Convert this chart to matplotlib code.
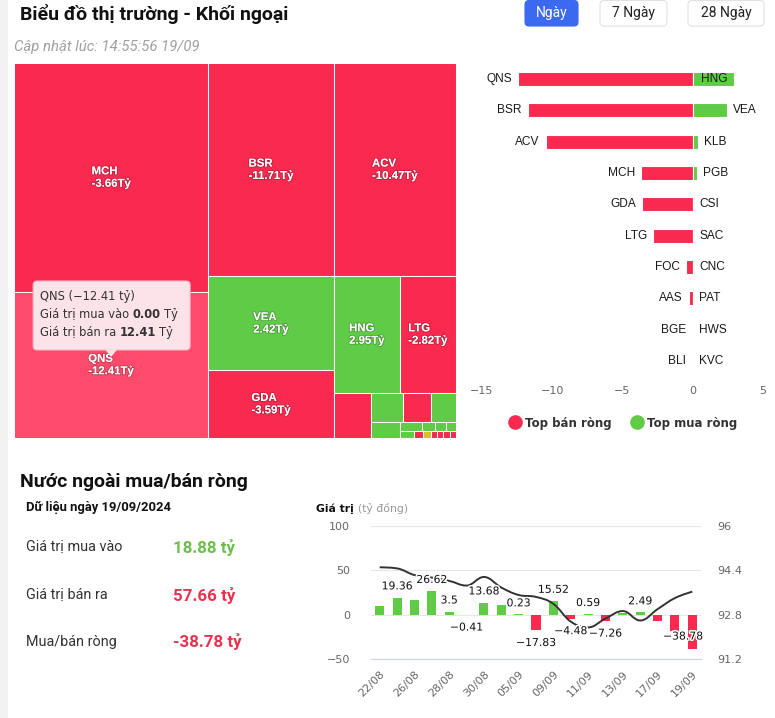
import matplotlib
matplotlib.use("Agg")
import matplotlib.pyplot as plt
import matplotlib.patheffects as pe
from matplotlib.patches import Rectangle, FancyBboxPatch, Polygon, PathPatch
from matplotlib.path import Path
from matplotlib.lines import Line2D
import numpy as np

# ---------------- du lieu ----------------
# treemap: kich thuoc o = tong gia tri giao dich, mau = mua/ban rong (ty)
tm_names = ['MCH', 'QNS', 'BSR', 'ACV', 'VEA', 'GDA', 'HNG', 'LTG',
            '', '', '', '', '', '', '', '', '', '', '', '', '', '', '', '']
tm_size = [19.47, 12.41, 11.75, 11.39, 5.15, 3.72, 3.36, 2.85,
           0.736, 0.414, 0.362, 0.330, 0.202, 0.087, 0.053, 0.046, 0.040,
           0.040, 0.026, 0.023, 0.018, 0.018, 0.018, 0.018]
tm_net = [-3.66, -12.41, -11.71, -10.47, 2.42, -3.59, 2.95, -2.82,
          -0.45, 0.35, -0.30, 0.28, 0.05, 0.02, 0.02, 0.01, 0.01,
          0.01, -0.02, 0.0, -0.01, -0.01, -0.01, -0.01]

tip_name = 'QNS'
tip_buy = 0.00
tip_sell = 12.41

# top ban rong / mua rong
sell_names = ['QNS', 'BSR', 'ACV', 'MCH', 'GDA', 'LTG', 'FOC', 'AAS', 'BGE', 'BLI']
sell_vals = [-12.41, -11.71, -10.47, -3.66, -3.59, -2.82, -0.45, -0.30, -0.02, -0.01]
buy_names = ['HNG', 'VEA', 'KLB', 'PGB', 'CSI', 'SAC', 'CNC', 'PAT', 'HWS', 'KVC']
buy_vals = [2.95, 2.42, 0.35, 0.28, 0.04, 0.02, 0.01, 0.01, 0.0, 0.0]

# nuoc ngoai mua/ban rong theo ngay + chi so (truc phai)
dates = ['22/08', '23/08', '26/08', '27/08', '28/08', '29/08', '30/08', '04/09',
         '05/09', '06/09', '09/09', '10/09', '11/09', '12/09', '13/09', '16/09',
         '17/09', '18/09', '19/09']
net_flow = [9.3, 19.36, 17.0, 26.62, 3.5, -0.41, 13.68, 10.8, 0.23, -17.83,
            15.52, -4.48, 0.59, -7.26, 1.6, 2.49, -6.6, -18.3, -38.78]
show_lbl = [False, True, False, True, True, True, True, False, True, True,
            True, True, True, True, False, True, False, False, True]
upcom_idx = [94.51, 94.47, 94.23, 94.14, 94.02, 93.85, 94.16, 93.78, 93.51, 93.44,
             93.19, 92.55, 92.34, 92.66, 92.93, 92.59, 93.0, 93.40, 93.63]

buy_total = 18.88
sell_total = 57.66
net_total = -38.78

RED = '#F9294F'
GREEN = '#5FCB46'
YEL = '#D8C41C'
HOVER = '#FF4A6B'
UI = ['Roboto', 'DejaVu Sans']
LAB = ['Liberation Sans', 'DejaVu Sans']


def hc_squarified(values, x, y, w, h):
    # kieu "squarified" cua highcharts, huong doi xen ke
    tot = sum(values)
    areas = [v / tot * w * h for v in values]
    rects = []
    direction = 0
    row = []

    def place(row, x, y, w, h, d):
        s = sum(row)
        out = []
        if d == 0:
            cw = s / h
            yy = y
            for a in row:
                out.append((x, yy, cw, a / cw))
                yy += a / cw
            return out, x + cw, y, w - cw, h
        rh = s / w
        xx = x
        for a in row:
            out.append((xx, y, a / rh, rh))
            xx += a / rh
        return out, x, y + rh, w, h - rh

    def ratio(a, b):
        return max(a / b, b / a)

    for a in areas:
        if row:
            last = row[-1]
            s_old, s_new = sum(row), sum(row) + a
            if direction == 0:
                t_old, t_new = s_old / h, s_new / h
            else:
                t_old, t_new = s_old / w, s_new / w
            lr = ratio(t_old, last / t_old)
            nr = ratio(t_new, last / t_new)
            if nr > lr:
                out, x, y, w, h = place(row, x, y, w, h, direction)
                rects += out
                direction = 1 - direction
                row = []
        row.append(a)
    out, *_ = place(row, x, y, w, h, direction)
    rects += out
    return rects


def hc_spline(xs, ys, smoothing=1.5):
    n = len(xs)
    denom = smoothing + 1
    left = [None] * n
    right = [None] * n
    for i in range(1, n - 1):
        px, py = xs[i], ys[i]
        lx, ly = xs[i - 1], ys[i - 1]
        nx, ny = xs[i + 1], ys[i + 1]
        lcx = (smoothing * px + lx) / denom
        lcy = (smoothing * py + ly) / denom
        rcx = (smoothing * px + nx) / denom
        rcy = (smoothing * py + ny) / denom
        corr = 0
        if rcx != lcx:
            corr = (rcy - lcy) * (rcx - px) / (rcx - lcx) + py - rcy
        lcy += corr
        rcy += corr
        if lcy > ly and lcy > py:
            lcy = max(ly, py); rcy = 2 * py - lcy
        elif lcy < ly and lcy < py:
            lcy = min(ly, py); rcy = 2 * py - lcy
        if rcy > ny and rcy > py:
            rcy = max(ny, py); lcy = 2 * py - rcy
        elif rcy < ny and rcy < py:
            rcy = min(ny, py); lcy = 2 * py - rcy
        left[i] = (lcx, lcy)
        right[i] = (rcx, rcy)
    verts = [(xs[0], ys[0])]
    codes = [Path.MOVETO]
    for i in range(1, n):
        c1 = right[i - 1] or (xs[i - 1], ys[i - 1])
        c2 = left[i] or (xs[i], ys[i])
        verts += [c1, c2, (xs[i], ys[i])]
        codes += [Path.CURVE4] * 3
    return Path(verts, codes)


W, H = 775, 718
fig = plt.figure(figsize=(W / 100, H / 100), dpi=100)
renderer = fig.canvas.get_renderer()


def rect_px(x0, y0, x1, y1):
    return [x0 / W, 1 - y1 / H, (x1 - x0) / W, (y1 - y0) / H]


# lop trang (toa do pixel)
ax_pg = fig.add_axes([0, 0, 1, 1], zorder=10)
ax_pg.set_xlim(0, W)
ax_pg.set_ylim(H, 0)
ax_pg.axis('off')


def runs(x, y, parts, gap=3.3, **kw):
    for s, extra in parts:
        t = ax_pg.text(x, y, s, **kw, **extra)
        x = t.get_window_extent(renderer).x1 + gap
    return x


ax_pg.add_patch(Rectangle((0, 0), 8, H, color='#f2f2f2', lw=0))

# header
ax_pg.text(20, 20, 'Biểu đồ thị trường - Khối ngoại', family=UI, fontweight='bold',
           fontsize=14, color='#111111', va='baseline')
ax_pg.text(14, 50.5, 'Cập nhật lúc: 14:55:56 19/09', family=UI, style='italic',
           fontsize=10.7, color='#a0a0a0', va='baseline')

btns = [('Ngày', 525, 578, True), ('7 Ngày', 600, 667, False), ('28 Ngày', 688, 764, False)]
for lbl, x0, x1, act in btns:
    ax_pg.add_patch(FancyBboxPatch((x0, 0.5), x1 - x0, 25.5,
                                   boxstyle='round,pad=0,rounding_size=4',
                                   fc='#3B69F0' if act else 'white',
                                   ec='#3B69F0' if act else '#e2e2e2', lw=0.8))
    ax_pg.text((x0 + x1) / 2, 13.5, lbl, family=UI, fontsize=10,
               color='white' if act else '#222222', ha='center', va='center')

# ---------------- treemap ----------------
TW, TH = 442, 375
ax_tm = fig.add_axes(rect_px(14, 63, 14 + TW, 63 + TH))
ax_tm.set_xlim(0, TW)
ax_tm.set_ylim(TH, 0)
ax_tm.axis('off')
cells = hc_squarified(tm_size, 0, 0, TW, TH)
for (x, y, w, h), name, net, size in zip(cells, tm_names, tm_net, tm_size):
    col = GREEN if net > 0 else (RED if net < 0 else YEL)
    if name == tip_name:
        col = HOVER
    ax_tm.add_patch(Rectangle((x, y), w, h, fc=col, ec='white', lw=0.75))
    if size > 2:
        ax_tm.text(x + w / 2, y + h / 2, f'{name}\n{net:.2f}Tỷ', ha='center', va='center',
                   multialignment='left', family=LAB, fontweight='bold', fontsize=8.2,
                   color='white', linespacing=1.3,
                   path_effects=[pe.withStroke(linewidth=1.2, foreground=(0, 0, 0, 0.25))])

# tooltip
k = tm_names.index(tip_name)
cx = cells[k][0] + cells[k][2] / 2
cy = cells[k][1] + cells[k][3] / 2
px, py = ax_pg.transData.inverted().transform(ax_tm.transData.transform((cx, cy)))
tip_y = py - 8
bx, bw, bh = px - 78, 157, 69
by = tip_y - 7 - bh
ax_pg.add_patch(FancyBboxPatch((bx, by), bw, bh, boxstyle='round,pad=0,rounding_size=4',
                               fc='#FCE3E9', ec='#F3B7C4', lw=0.8))
ax_pg.add_patch(Polygon([(px - 6, by + bh - 0.6), (px + 6, by + bh - 0.6), (px, tip_y)],
                        closed=True, fc='#FCE3E9', ec='none'))
tkw = dict(family='DejaVu Sans', fontsize=8.3, color='#333333', va='center')
head = f'{tip_name} ({tm_net[k]:.2f} tỷ)'.replace('-', '−')
ax_pg.text(bx + 7, by + 15, head, **tkw)
runs(bx + 7, by + 33, [('Giá trị mua vào', {}), (f'{tip_buy:.2f}', {'fontweight': 'bold'}),
                       ('Tỷ', {})], **tkw)
runs(bx + 7, by + 51, [('Giá trị bán ra', {}), (f'{tip_sell:.2f}', {'fontweight': 'bold'}),
                       ('Tỷ', {})], **tkw)

# ---------------- top ban/mua rong ----------------
ax_b = fig.add_axes(rect_px(482, 63.3, 763, 376.7))
rows = np.arange(len(sell_names))
ax_b.barh(rows, sell_vals, height=0.45, color=RED, edgecolor='white', linewidth=0.8)
ax_b.barh(rows, buy_vals, height=0.45, color=GREEN, edgecolor='white', linewidth=0.8)
ax_b.set_xlim(-15, 5)
ax_b.set_ylim(len(rows) - 0.5, -0.5)
ax_b.set_xticks([-15, -10, -5, 0, 5])
ax_b.set_yticks([])
for s in ax_b.spines.values():
    s.set_visible(False)
ax_b.tick_params(axis='x', length=0, pad=7, labelsize=8, labelcolor='#666666')
for lab in ax_b.get_xticklabels():
    lab.set_family('DejaVu Sans')

bkw = dict(textcoords='offset points', va='center', family=LAB, fontsize=8.6, color='#1a1a1a')
for i, (n, v) in enumerate(zip(sell_names, sell_vals)):
    ax_b.annotate(n, (v, i), xytext=(-4.5, 0), ha='right', **bkw)
ax_right = ax_b.get_window_extent(renderer).x1
for i, (n, v) in enumerate(zip(buy_names, buy_vals)):
    t = ax_b.annotate(n, (v, i), xytext=(4.5, 0), ha='left', **bkw)
    if t.get_window_extent(renderer).x1 > ax_right:
        t.xyann = (-4.5, 0)
        t.set_ha('right')

handles = [Line2D([], [], ls='', marker='o', ms=9.5, color=RED),
           Line2D([], [], ls='', marker='o', ms=9.5, color=GREEN)]
fig.legend(handles, ['Top bán ròng', 'Top mua ròng'], loc='center',
           bbox_to_anchor=(623 / W, 1 - 423 / H), ncol=2, frameon=False,
           prop=dict(family='DejaVu Sans', weight='bold', size=8.5), labelcolor='#333333',
           handletextpad=0.35, columnspacing=1.6, handlelength=1.0)

# ---------------- tong hop ben trai ----------------
ax_pg.text(20, 487, 'Nước ngoài mua/bán ròng', family=UI, fontweight='bold', fontsize=14,
           color='#111111', va='baseline')
ax_pg.text(26, 511.5, 'Dữ liệu ngày 19/09/2024', family=UI, fontweight='bold', fontsize=9.4,
           color='#111111', va='baseline')
summary = [('Giá trị mua vào', buy_total, '#6BC04C', 547),
           ('Giá trị bán ra', sell_total, '#E8334F', 595),
           ('Mua/bán ròng', net_total, '#E8334F', 642)]
for lbl, val, col, yy in summary:
    ax_pg.text(26, yy, lbl, family=UI, fontsize=10.4, color='#333333', va='center')
    ax_pg.text(173, yy, f'{val:.2f} tỷ', family=UI, fontsize=12.2, fontweight='bold',
               color=col, va='center')

# ---------------- bieu do theo ngay ----------------
runs(316, 509, [('Giá trị', {'fontweight': 'bold', 'color': '#111111'}),
                ('(tỷ đồng)', {'color': '#999999'})], gap=4,
     family='DejaVu Sans', fontsize=7.8, va='center')

ax_c = fig.add_axes(rect_px(371, 526, 701, 659))
xs = np.arange(len(dates))
cols = [GREEN if v >= 0 else RED for v in net_flow]
ax_c.bar(xs, net_flow, width=0.52, color=cols, zorder=2)
ax_c.set_xlim(-0.5, len(dates) - 0.5)
ax_c.set_ylim(-50, 100)
ax_c.set_yticks([-50, 0, 50, 100])
ax_c.grid(axis='y', color='#e6e6e6', lw=0.8)
ax_c.set_axisbelow(True)
for s in ['top', 'left', 'right']:
    ax_c.spines[s].set_visible(False)
ax_c.spines['bottom'].set_color('#ccd6eb')
ax_c.spines['bottom'].set_linewidth(0.8)
ax_c.tick_params(axis='y', length=0, pad=15, labelsize=8, labelcolor='#666666')
ax_c.set_xticks(xs[::2])
ax_c.set_xticklabels(dates[::2], rotation=45, ha='right', rotation_mode='anchor')
ax_c.tick_params(axis='x', length=0, pad=7, labelsize=8, labelcolor='#666666')

ax_r = ax_c.twinx()
ax_r.set_ylim(91.2, 96)
r_ticks = [91.2, 92.8, 94.4, 96]
ax_r.set_yticks(r_ticks)
ax_r.set_yticklabels([f'{v:g}' for v in r_ticks])
for s in ax_r.spines.values():
    s.set_visible(False)
ax_r.tick_params(axis='y', length=0, pad=12, labelsize=8, labelcolor='#666666')
ax_r.add_patch(PathPatch(hc_spline(list(xs), upcom_idx), fill=False, ec='#333333', lw=1.4,
                         zorder=3))

cbox = ax_c.get_window_extent(renderer)
for i, v in enumerate(net_flow):
    if not show_lbl[i]:
        continue
    off = 8 if v >= 0 else -9
    t = ax_r.annotate(f'{v:g}'.replace('-', '−'), (i, v), xytext=(0, off),
                      xycoords=ax_c.transData, textcoords='offset points',
                      ha='center', va='center', family='DejaVu Sans', fontsize=7.8,
                      color='#111111', zorder=4, annotation_clip=False,
                      path_effects=[pe.withStroke(linewidth=2.2, foreground='white')])
    bb = t.get_window_extent(renderer)
    if bb.y0 < cbox.y0:
        t.xyann = (0, -off)
        bb = t.get_window_extent(renderer)
    if bb.x1 > cbox.x1 + 2:
        dx = (bb.x1 - cbox.x1 - 2) * 72 / 100
        t.xyann = (t.xyann[0] - dx, t.xyann[1])

fig.savefig('out.png', dpi=100)
